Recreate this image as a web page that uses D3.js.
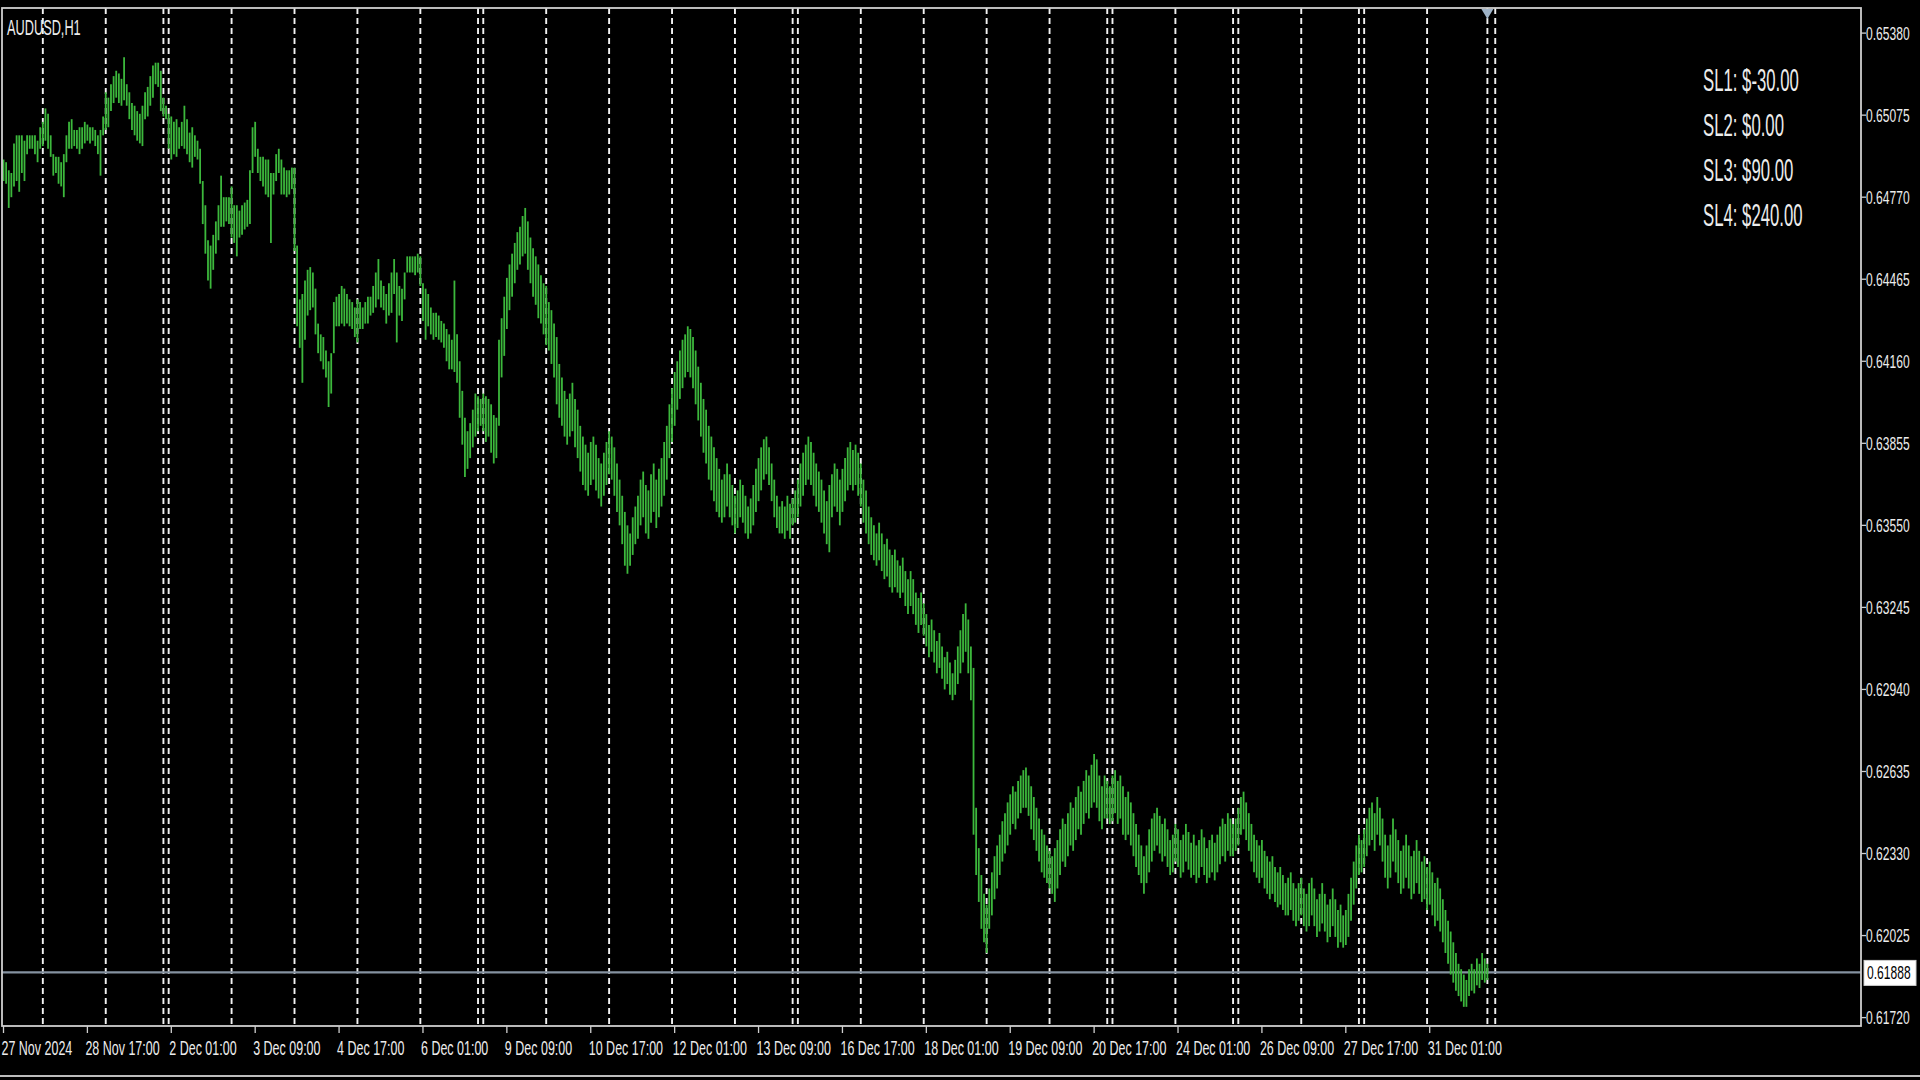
<!DOCTYPE html>
<html>
<head>
<meta charset="utf-8">
<script src="https://cdnjs.cloudflare.com/ajax/libs/d3/7.8.5/d3.min.js"></script>
<style>
  body { margin: 0; background: #000; overflow: hidden; }
  text { font-family: "Liberation Sans", Arial, sans-serif; fill: #ececec; }
</style>
</head>
<body>
<div id="chart"></div>
<script>
var symbolName = "AUDUSD,H1";
var bidPrice = 0.61888;
var slLabels = ["SL1: $-30.00", "SL2: $0.00", "SL3: $90.00", "SL4: $240.00"];

var priceTicks = [0.65380, 0.65075, 0.64770, 0.64465, 0.64160, 0.63855, 0.63550,
    0.63245, 0.62940, 0.62635, 0.62330, 0.62025, 0.61720];

// one label every 32 hourly bars
var timeLabels = ["27 Nov 2024", "28 Nov 17:00", "2 Dec 01:00", "3 Dec 09:00", "4 Dec 17:00",
    "6 Dec 01:00", "9 Dec 09:00", "10 Dec 17:00", "12 Dec 01:00", "13 Dec 09:00", "16 Dec 17:00",
    "18 Dec 01:00", "19 Dec 09:00", "20 Dec 17:00", "24 Dec 01:00", "26 Dec 09:00", "27 Dec 17:00",
    "31 Dec 01:00"];

// bar index of the first bar of each day (period separators)
var daySeparators = [15, 39, 61, 63, 87, 111, 135, 159, 181, 183, 207, 231, 255, 279, 301, 303,
    327, 351, 375, 399, 421, 423, 447, 469, 471, 495, 517, 519, 543, 566, 569];

// H1 bars, 27 Nov 09:00 onwards
var highs = [
0.6491,0.6490,0.6487,0.6486,0.6497,0.6500,0.6500,0.6500,0.6498,0.6500,
0.6500,0.6500,0.6500,0.6498,0.6503,0.6505,0.6510,0.6508,0.6500,0.6493,
0.6492,0.6492,0.6490,0.6493,0.6500,0.6505,0.6506,0.6502,0.6502,0.6503,
0.6503,0.6505,0.6504,0.6503,0.6503,0.6502,0.6500,0.6502,0.6507,0.6516,
0.6514,0.6519,0.6522,0.6524,0.6523,0.6521,0.6529,0.6519,0.6516,0.6512,
0.6511,0.6509,0.6508,0.6511,0.6516,0.6518,0.6522,0.6526,0.6527,0.6527,
0.6524,0.6514,0.6511,0.6508,0.6507,0.6505,0.6506,0.6503,0.6505,0.6511,
0.6506,0.6501,0.6503,0.6500,0.6498,0.6495,0.6483,0.6474,0.6461,0.6459,
0.6463,0.6468,0.6474,0.6485,0.6477,0.6477,0.6477,0.6481,0.6474,0.6474,
0.6472,0.6474,0.6475,0.6476,0.6487,0.6503,0.6505,0.6495,0.6492,0.6492,
0.6491,0.6491,0.6486,0.6486,0.6493,0.6495,0.6491,0.6488,0.6487,0.6487,
0.6488,0.6488,0.6459,0.6439,0.6441,0.6446,0.6450,0.6451,0.6449,0.6443,
0.6430,0.6426,0.6425,0.6420,0.6416,0.6419,0.6438,0.6440,0.6441,0.6444,
0.6443,0.6441,0.6439,0.6438,0.6436,0.6439,0.6438,0.6436,0.6438,0.6440,
0.6440,0.6444,0.6449,0.6454,0.6446,0.6444,0.6441,0.6445,0.6449,0.6454,
0.6449,0.6444,0.6443,0.6449,0.6455,0.6455,0.6455,0.6455,0.6456,0.6455,
0.6445,0.6443,0.6441,0.6436,0.6434,0.6434,0.6433,0.6431,0.6430,0.6428,
0.6426,0.6424,0.6446,0.6426,0.6416,0.6405,0.6395,0.6390,0.6393,0.6398,
0.6404,0.6403,0.6402,0.6404,0.6403,0.6402,0.6400,0.6396,0.6395,0.6424,
0.6432,0.6440,0.6447,0.6452,0.6456,0.6460,0.6464,0.6466,0.6470,0.6473,
0.6468,0.6462,0.6458,0.6455,0.6452,0.6448,0.6445,0.6444,0.6438,0.6435,
0.6430,0.6425,0.6415,0.6410,0.6405,0.6402,0.6404,0.6408,0.6402,0.6398,
0.6392,0.6388,0.6385,0.6382,0.6386,0.6388,0.6385,0.6380,0.6378,0.6382,
0.6386,0.6390,0.6388,0.6384,0.6378,0.6372,0.6366,0.6360,0.6355,0.6352,
0.6358,0.6362,0.6366,0.6372,0.6375,0.6370,0.6368,0.6374,0.6378,0.6372,
0.6376,0.6380,0.6386,0.6392,0.6400,0.6406,0.6412,0.6416,0.6420,0.6424,
0.6426,0.6429,0.6428,0.6425,0.6420,0.6414,0.6408,0.6402,0.6398,0.6392,
0.6388,0.6384,0.6380,0.6376,0.6372,0.6374,0.6378,0.6374,0.6370,0.6366,
0.6368,0.6372,0.6370,0.6366,0.6362,0.6365,0.6370,0.6376,0.6380,0.6384,
0.6387,0.6388,0.6384,0.6378,0.6372,0.6366,0.6362,0.6364,0.6362,0.6366,
0.6363,0.6365,0.6368,0.6372,0.6378,0.6382,0.6385,0.6388,0.6386,0.6382,
0.6378,0.6375,0.6372,0.6368,0.6364,0.6370,0.6374,0.6378,0.6376,0.6372,
0.6376,0.6380,0.6384,0.6386,0.6383,0.6385,0.6382,0.6378,0.6372,0.6368,
0.6362,0.6358,0.6355,0.6352,0.6356,0.6352,0.6348,0.6350,0.6346,0.6344,
0.6346,0.6342,0.6340,0.6343,0.6338,0.6335,0.6338,0.6335,0.6330,0.6328,
0.6330,0.6326,0.6322,0.6318,0.6320,0.6316,0.6312,0.6315,0.6310,0.6306,
0.6308,0.6304,0.6300,0.6305,0.6310,0.6316,0.6322,0.6326,0.6320,0.6310,
0.6302,0.6250,0.6235,0.6225,0.6218,0.6214,0.6220,0.6226,0.6232,0.6236,
0.6240,0.6245,0.6248,0.6252,0.6255,0.6258,0.6256,0.6260,0.6262,0.6264,
0.6265,0.6262,0.6258,0.6254,0.6250,0.6246,0.6242,0.6240,0.6236,0.6234,
0.6232,0.6235,0.6238,0.6242,0.6246,0.6244,0.6248,0.6252,0.6250,0.6254,
0.6258,0.6256,0.6260,0.6264,0.6262,0.6266,0.6270,0.6268,0.6262,0.6258,
0.6262,0.6260,0.6258,0.6262,0.6264,0.6260,0.6262,0.6258,0.6254,0.6256,
0.6252,0.6248,0.6244,0.6240,0.6236,0.6232,0.6236,0.6242,0.6246,0.6248,
0.6250,0.6247,0.6244,0.6246,0.6242,0.6238,0.6240,0.6244,0.6242,0.6238,
0.6240,0.6244,0.6241,0.6237,0.6240,0.6236,0.6238,0.6242,0.6239,0.6235,
0.6238,0.6240,0.6237,0.6240,0.6243,0.6246,0.6244,0.6248,0.6246,0.6244,
0.6246,0.6250,0.6254,0.6256,0.6252,0.6248,0.6244,0.6240,0.6238,0.6236,
0.6238,0.6234,0.6232,0.6230,0.6232,0.6228,0.6226,0.6228,0.6225,0.6222,
0.6224,0.6226,0.6222,0.6220,0.6222,0.6224,0.6220,0.6218,0.6222,0.6224,
0.6220,0.6216,0.6218,0.6222,0.6218,0.6214,0.6216,0.6220,0.6216,0.6212,
0.6214,0.6210,0.6212,0.6218,0.6224,0.6230,0.6236,0.6240,0.6238,0.6242,
0.6246,0.6250,0.6252,0.6248,0.6254,0.6250,0.6246,0.6240,0.6236,0.6240,
0.6246,0.6242,0.6238,0.6234,0.6236,0.6240,0.6236,0.6232,0.6234,0.6238,
0.6234,0.6230,0.6232,0.6228,0.6230,0.6226,0.6222,0.6224,0.6220,0.6216,
0.6212,0.6208,0.6204,0.6200,0.6196,0.6192,0.6190,0.6188,0.6186,0.6190,
0.6192,0.6190,0.6194,0.6192,0.6196,0.6194,0.6192];

var lows = [
0.6483,0.6482,0.6473,0.6477,0.6481,0.6483,0.6479,0.6486,0.6483,0.6493,
0.6495,0.6495,0.6493,0.6490,0.6495,0.6496,0.6498,0.6495,0.6492,0.6485,
0.6486,0.6482,0.6481,0.6477,0.6490,0.6495,0.6495,0.6496,0.6495,0.6493,
0.6495,0.6497,0.6498,0.6497,0.6498,0.6496,0.6493,0.6485,0.6500,0.6502,
0.6503,0.6509,0.6512,0.6514,0.6512,0.6511,0.6513,0.6511,0.6506,0.6502,
0.6500,0.6498,0.6497,0.6496,0.6506,0.6507,0.6511,0.6514,0.6519,0.6518,
0.6509,0.6507,0.6506,0.6495,0.6491,0.6493,0.6492,0.6495,0.6496,0.6495,
0.6493,0.6490,0.6488,0.6492,0.6491,0.6482,0.6467,0.6456,0.6446,0.6443,
0.6450,0.6456,0.6461,0.6466,0.6466,0.6468,0.6467,0.6462,0.6460,0.6455,
0.6462,0.6463,0.6465,0.6466,0.6467,0.6486,0.6492,0.6486,0.6483,0.6481,
0.6478,0.6477,0.6460,0.6478,0.6483,0.6486,0.6478,0.6478,0.6477,0.6478,
0.6480,0.6457,0.6429,0.6421,0.6408,0.6424,0.6433,0.6435,0.6436,0.6426,
0.6419,0.6416,0.6413,0.6410,0.6399,0.6404,0.6419,0.6429,0.6429,0.6430,
0.6429,0.6430,0.6429,0.6428,0.6425,0.6423,0.6428,0.6428,0.6430,0.6430,
0.6433,0.6434,0.6436,0.6439,0.6436,0.6435,0.6430,0.6433,0.6434,0.6441,
0.6423,0.6433,0.6431,0.6439,0.6449,0.6449,0.6449,0.6448,0.6449,0.6444,
0.6431,0.6424,0.6429,0.6426,0.6424,0.6425,0.6424,0.6423,0.6421,0.6416,
0.6413,0.6413,0.6412,0.6408,0.6395,0.6385,0.6373,0.6376,0.6380,0.6384,
0.6388,0.6390,0.6392,0.6390,0.6386,0.6388,0.6382,0.6378,0.6380,0.6392,
0.6410,0.6418,0.6428,0.6435,0.6440,0.6445,0.6450,0.6452,0.6455,0.6456,
0.6450,0.6445,0.6440,0.6437,0.6432,0.6430,0.6426,0.6422,0.6420,0.6415,
0.6410,0.6400,0.6395,0.6392,0.6388,0.6385,0.6388,0.6390,0.6384,0.6380,
0.6375,0.6370,0.6368,0.6366,0.6370,0.6372,0.6368,0.6365,0.6362,0.6366,
0.6370,0.6374,0.6372,0.6366,0.6360,0.6355,0.6348,0.6340,0.6337,0.6340,
0.6344,0.6348,0.6350,0.6355,0.6358,0.6352,0.6350,0.6356,0.6360,0.6354,
0.6358,0.6362,0.6366,0.6372,0.6380,0.6386,0.6392,0.6398,0.6402,0.6406,
0.6410,0.6412,0.6410,0.6406,0.6400,0.6394,0.6388,0.6382,0.6378,0.6372,
0.6368,0.6364,0.6360,0.6358,0.6356,0.6358,0.6362,0.6358,0.6355,0.6352,
0.6354,0.6358,0.6356,0.6352,0.6350,0.6352,0.6355,0.6360,0.6364,0.6368,
0.6372,0.6374,0.6370,0.6364,0.6358,0.6354,0.6352,0.6352,0.6350,0.6353,
0.6350,0.6355,0.6356,0.6358,0.6362,0.6366,0.6370,0.6372,0.6370,0.6366,
0.6362,0.6360,0.6356,0.6352,0.6348,0.6345,0.6358,0.6362,0.6360,0.6355,
0.6360,0.6364,0.6368,0.6370,0.6368,0.6370,0.6366,0.6362,0.6356,0.6352,
0.6348,0.6344,0.6342,0.6340,0.6342,0.6338,0.6335,0.6336,0.6332,0.6330,
0.6332,0.6330,0.6328,0.6330,0.6325,0.6322,0.6325,0.6322,0.6318,0.6315,
0.6318,0.6314,0.6310,0.6306,0.6308,0.6304,0.6300,0.6302,0.6298,0.6294,
0.6296,0.6292,0.6290,0.6292,0.6296,0.6300,0.6304,0.6308,0.6300,0.6290,
0.6240,0.6225,0.6215,0.6205,0.6200,0.6196,0.6205,0.6210,0.6216,0.6220,
0.6225,0.6230,0.6233,0.6236,0.6240,0.6244,0.6242,0.6246,0.6248,0.6250,
0.6250,0.6247,0.6242,0.6238,0.6234,0.6230,0.6226,0.6224,0.6222,0.6220,
0.6218,0.6215,0.6220,0.6225,0.6230,0.6228,0.6232,0.6236,0.6234,0.6238,
0.6242,0.6240,0.6244,0.6248,0.6246,0.6250,0.6252,0.6250,0.6245,0.6242,
0.6246,0.6246,0.6244,0.6245,0.6248,0.6244,0.6246,0.6240,0.6238,0.6240,
0.6236,0.6232,0.6228,0.6225,0.6222,0.6218,0.6222,0.6226,0.6230,0.6234,
0.6236,0.6233,0.6230,0.6232,0.6228,0.6225,0.6226,0.6230,0.6228,0.6224,
0.6226,0.6230,0.6227,0.6224,0.6225,0.6222,0.6224,0.6228,0.6225,0.6222,
0.6224,0.6226,0.6223,0.6226,0.6229,0.6232,0.6230,0.6234,0.6232,0.6232,
0.6234,0.6236,0.6240,0.6242,0.6238,0.6234,0.6230,0.6226,0.6224,0.6222,
0.6224,0.6220,0.6218,0.6216,0.6218,0.6215,0.6213,0.6214,0.6212,0.6210,
0.6210,0.6212,0.6208,0.6206,0.6208,0.6210,0.6206,0.6204,0.6206,0.6210,
0.6206,0.6202,0.6204,0.6207,0.6204,0.6200,0.6202,0.6206,0.6202,0.6198,
0.6200,0.6198,0.6199,0.6202,0.6208,0.6214,0.6220,0.6225,0.6226,0.6228,
0.6232,0.6236,0.6238,0.6234,0.6240,0.6236,0.6230,0.6224,0.6220,0.6224,
0.6230,0.6226,0.6222,0.6218,0.6220,0.6224,0.6220,0.6216,0.6218,0.6222,
0.6218,0.6215,0.6216,0.6212,0.6214,0.6210,0.6206,0.6208,0.6204,0.6200,
0.6196,0.6192,0.6188,0.6185,0.6182,0.6180,0.6178,0.6176,0.6176,0.6180,
0.6182,0.6181,0.6184,0.6183,0.6186,0.6185,0.6186];

var W = 1920, H = 1080;
var plot = { left: 2, top: 8, right: 1861, bottom: 1026 };
var barStep = 2.6217;
var lastBar = highs.length - 1;

var svg = d3.select("#chart").append("svg")
    .attr("width", W)
    .attr("height", H)
    .style("background", "#000")
    .style("display", "block");

var x = d3.scaleLinear()
    .domain([0, lastBar])
    .range([3.5, 3.5 + lastBar * barStep]);

var y = d3.scaleLinear()
    .domain([0.61720, 0.65380])
    .range([1017.6, 33.1]);

// squeezed text, the terminal font is narrow
function label(g, px, py, str, size, sx, anchor) {
    return g.append("text")
        .attr("transform", "translate(" + px + "," + py + ") scale(" + sx + ",1)")
        .attr("font-size", size)
        .attr("text-anchor", anchor || "start")
        .attr("dominant-baseline", "central")
        .text(str);
}

// period separators
svg.append("g").selectAll("line")
    .data(daySeparators)
    .enter().append("line")
    .attr("x1", function(d) { return x(d); })
    .attr("x2", function(d) { return x(d); })
    .attr("y1", plot.top)
    .attr("y2", plot.bottom)
    .attr("stroke", "#f2f2f2")
    .attr("stroke-width", 1.9)
    .attr("stroke-dasharray", "6,4");

// bid line
svg.append("line")
    .attr("x1", plot.left).attr("x2", plot.right)
    .attr("y1", y(bidPrice)).attr("y2", y(bidPrice))
    .attr("stroke", "#8592a0")
    .attr("stroke-width", 2.4);

// HL bars
svg.append("g").selectAll("line")
    .data(d3.range(highs.length))
    .enter().append("line")
    .attr("x1", function(i) { return x(i); })
    .attr("x2", function(i) { return x(i); })
    .attr("y1", function(i) { return y(highs[i]); })
    .attr("y2", function(i) { return y(lows[i]); })
    .attr("stroke", "#3cb83c")
    .attr("stroke-width", 1.8);

// frame
svg.append("rect")
    .attr("x", plot.left).attr("y", plot.top)
    .attr("width", plot.right - plot.left)
    .attr("height", plot.bottom - plot.top)
    .attr("fill", "none")
    .attr("stroke", "#cfcfcf")
    .attr("stroke-width", 1.8);

// chart shift marker
var sx0 = x(lastBar);
svg.append("path")
    .attr("d", "M" + (sx0 - 6) + "," + (plot.top + 1) + "L" + (sx0 + 6) + "," + (plot.top + 1) +
        "L" + sx0 + "," + (plot.top + 11) + "Z")
    .attr("fill", "#9fb3c8");

// price axis
var yAxisG = svg.append("g");
priceTicks.forEach(function(p) {
    yAxisG.append("line")
        .attr("x1", plot.right).attr("x2", plot.right + 5)
        .attr("y1", y(p)).attr("y2", y(p))
        .attr("stroke", "#cfcfcf").attr("stroke-width", 1.3);
    label(yAxisG, plot.right + 5, y(p), p.toFixed(5), 19, 0.635);
});

// bid price box
svg.append("rect")
    .attr("x", plot.right + 3).attr("y", y(bidPrice) - 12)
    .attr("width", 52).attr("height", 25)
    .attr("fill", "#fff").attr("stroke", "#cfcfcf");
label(svg, plot.right + 6, y(bidPrice), bidPrice.toFixed(5), 19, 0.635).style("fill", "#000");

// time axis
var xAxisG = svg.append("g");
timeLabels.forEach(function(t, i) {
    var bx = x(i * 32);
    xAxisG.append("line")
        .attr("x1", bx).attr("x2", bx)
        .attr("y1", plot.bottom).attr("y2", plot.bottom + 7)
        .attr("stroke", "#cfcfcf").attr("stroke-width", 1.3);
    label(xAxisG, bx - 2, 1048, t, 21, 0.595);
});

// symbol and stop levels
label(svg, 7, 28, symbolName, 22, 0.58);
slLabels.forEach(function(s, i) {
    label(svg, 1703, 79.6 + i * 45, s, 31, 0.54);
});

// window bottom edge
svg.append("line")
    .attr("x1", 0).attr("x2", W)
    .attr("y1", 1076).attr("y2", 1076)
    .attr("stroke", "#bcbcbc").attr("stroke-width", 2);
</script>
</body>
</html>
